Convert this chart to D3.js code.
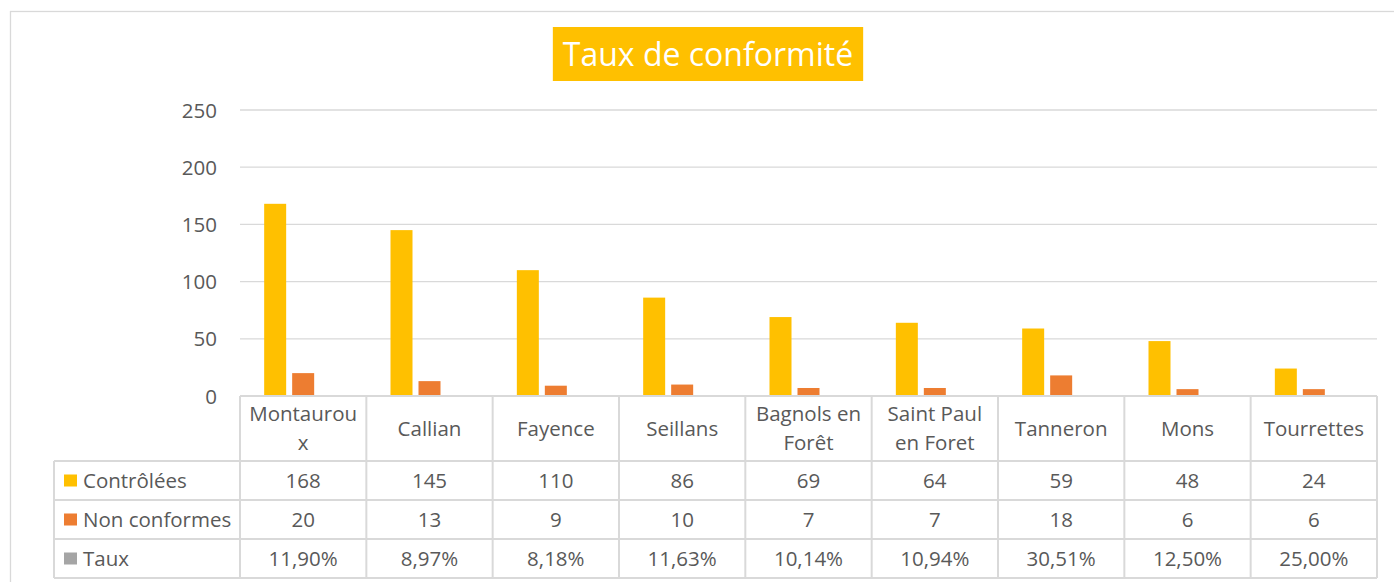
<!DOCTYPE html>
<html lang="fr">
<head>
<meta charset="utf-8">
<title>Taux de conformité</title>
<style>
html,body{margin:0;padding:0;background:#fff;overflow:hidden;}
svg{display:block;font-family:'Open Sans',sans-serif;}
.grid line{stroke:#d9d9d9;stroke-width:1.3px;}
.tbl line{stroke:#d9d9d9;stroke-width:2px;}
.lbl{fill:#595959;font-size:20.5px;}
</style>
</head>
<body>
<div id="chart"></div>
<script src="https://cdn.jsdelivr.net/npm/d3@7"></script>
<script>
/* ---------- données ---------- */
const categories = ['Montauroux','Callian','Fayence','Seillans','Bagnols en Forêt',
                    'Saint Paul en Foret','Tanneron','Mons','Tourrettes'];
const series     = ['Contrôlées','Non conformes','Taux'];
const controlees = [168,145,110,86,69,64,59,48,24];
const nonConf    = [20,13,9,10,7,7,18,6,6];
const taux       = [0.1190,0.0897,0.0818,0.1163,0.1014,0.1094,0.3051,0.1250,0.2500];
const yTicks     = [0,50,100,150,200,250];
const colors     = ['#FFC000','#ED7D31','#A5A5A5'];

const values = [controlees,nonConf,taux];
const fmtPct = v => (v*100).toFixed(2).replace('.',',')+'%';
const rowText = [controlees.map(String), nonConf.map(String), taux.map(fmtPct)];

/* ---------- mise en page ---------- */
const W = 1394, H = 582;
const plot = {left:240, right:1377, top:110, bottom:396};
const headerH = 65, rowH = 39, legendLeft = 54;

const svg = d3.select('#chart').append('svg').attr('width',W).attr('height',H);
svg.append('rect').attr('width',W).attr('height',H).attr('fill','#fff');
// cadre du graphique
svg.append('rect').attr('x',10.5).attr('y',11.5).attr('width',1410).attr('height',620)
   .attr('fill','none').attr('stroke','#d9d9d9').attr('stroke-width',1.3);

const x0 = d3.scaleBand().domain(categories).range([plot.left,plot.right]);
const x1 = d3.scaleBand().domain(series).range([0,x0.bandwidth()]).paddingOuter(0.756);
const y  = d3.scaleLinear().domain([0,250]).range([plot.bottom,plot.top]);

/* ---------- grille + axe ---------- */
const grid = svg.append('g').attr('class','grid');
grid.selectAll('line').data(yTicks).join('line')
  .attr('x1',plot.left).attr('x2',plot.right)
  .attr('y1',d=>y(d)).attr('y2',d=>y(d));

const yAxis = svg.append('g').attr('transform',`translate(${plot.left-23},0)`)
  .call(d3.axisLeft(y).tickValues(yTicks).tickSize(0).tickPadding(0));
yAxis.attr('font-family',null).attr('font-size',null);
yAxis.select('.domain').remove();
yAxis.selectAll('text').attr('class','lbl').attr('fill',null).attr('dy','0.35em');

/* ---------- barres ---------- */
const inset = 3;
svg.append('g').selectAll('g').data(categories).join('g')
  .attr('transform',d=>`translate(${x0(d)},0)`)
  .selectAll('rect').data((d,i)=>series.map((s,k)=>({s,k,v:values[k][i]}))).join('rect')
  .attr('x',d=>x1(d.s)+inset).attr('width',x1.bandwidth()-inset*2)
  .attr('y',d=>y(d.v)).attr('height',d=>y(0)-y(d.v))
  .attr('fill',d=>colors[d.k]);

/* ---------- tableau de données ---------- */
const tbl = svg.append('g').attr('class','tbl');
const tTop = plot.bottom, tHead = tTop+headerH;
const rowsY = d3.range(series.length+1).map(i=>tHead+i*rowH);

// lignes horizontales
tbl.append('line').attr('x1',plot.left).attr('x2',plot.right).attr('y1',tTop).attr('y2',tTop);
rowsY.forEach(yy=>tbl.append('line').attr('x1',legendLeft).attr('x2',plot.right).attr('y1',yy).attr('y2',yy));
// lignes verticales
const xs = categories.map(c=>x0(c)).concat([plot.right]);
xs.forEach(xx=>tbl.append('line').attr('x1',xx).attr('x2',xx).attr('y1',tTop).attr('y2',rowsY[rowsY.length-1]));
tbl.append('line').attr('x1',legendLeft).attr('x2',legendLeft).attr('y1',tHead).attr('y2',rowsY[rowsY.length-1]);

// en-têtes (retour à la ligne façon Excel)
const maxW = x0.bandwidth()-14;
const probe = svg.append('text').attr('class','lbl');
const tw = s => probe.text(s).node().getComputedTextLength();
function wrap(s){
  const lines=[]; let cur='';
  for(const w of s.split(' ')){
    const cand = cur ? cur+' '+w : w;
    if(tw(cand)<=maxW){cur=cand;continue;}
    if(cur) lines.push(cur);
    cur='';
    for(const ch of w){
      if(tw(cur+ch)>maxW){lines.push(cur);cur=ch;} else cur+=ch;
    }
  }
  if(cur) lines.push(cur);
  return lines;
}
const lineH = 29;
categories.forEach(c=>{
  const lines = wrap(c);
  const cx = x0(c)+x0.bandwidth()/2, cy = tTop+headerH/2;
  const t = svg.append('text').attr('class','lbl').attr('text-anchor','middle');
  lines.forEach((l,i)=>t.append('tspan').attr('x',cx)
    .attr('y',cy+(i-(lines.length-1)/2)*lineH).attr('dy','0.35em').text(l));
});
probe.remove();

// lignes de valeurs + légende
series.forEach((s,k)=>{
  const cy = rowsY[k]+rowH/2;
  svg.append('rect').attr('x',64).attr('y',cy-6).attr('width',13).attr('height',12).attr('fill',colors[k]);
  svg.append('text').attr('class','lbl').attr('x',83).attr('y',cy).attr('dy','0.35em').text(s);
  categories.forEach((c,i)=>{
    svg.append('text').attr('class','lbl').attr('text-anchor','middle')
      .attr('x',x0(c)+x0.bandwidth()/2).attr('y',cy).attr('dy','0.35em').text(rowText[k][i]);
  });
});

/* ---------- titre ---------- */
const titleBox = svg.append('rect').attr('y',27).attr('height',54).attr('fill','#FFC000');
const title = svg.append('text').attr('x',708).attr('y',54.5).attr('dy','0.35em')
  .attr('text-anchor','middle').attr('fill','#fff').attr('font-size','32px').text('Taux de conformité');
const tl = title.node().getComputedTextLength();
titleBox.attr('x',708-tl/2-10).attr('width',tl+20);
</script>
</body>
</html>
